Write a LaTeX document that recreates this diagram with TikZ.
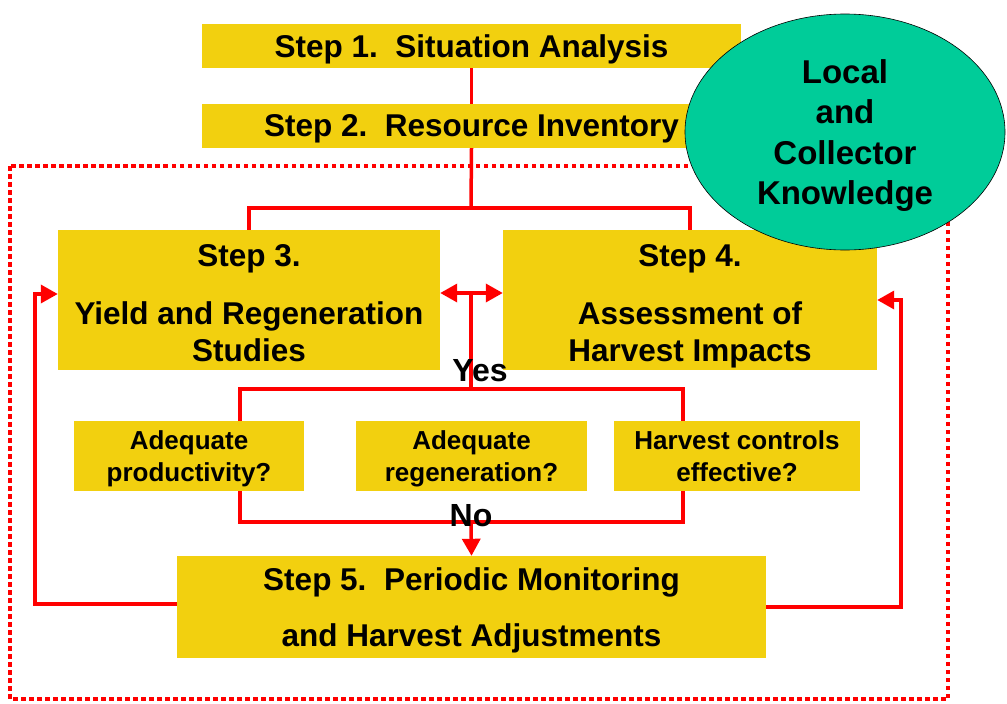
\documentclass[tikz,border=0pt]{standalone}
\usepackage{fontspec}
\setmainfont{Liberation Sans}
\usetikzlibrary{arrows.meta,shapes.geometric,calc}
\definecolor{gold}{RGB}{242,208,15}
\definecolor{teal2}{RGB}{0,204,153}
\begin{document}
\begin{tikzpicture}[x=1pt,y=-1pt,
  gbox/.style={fill=gold,inner sep=0pt,align=center,text depth=0pt,font=\bfseries\fontsize{31.5}{37}\selectfont},
  gtext/.style={inner sep=0pt,align=center,font=\bfseries\fontsize{31.5}{37}\selectfont},
  qbox/.style={fill=gold,inner sep=0pt,align=center,text depth=0pt,minimum width=#1,minimum height=70pt,font=\bfseries\fontsize{26}{31.5}\selectfont},
  conn/.style={red,line width=3.5pt},
  tip/.tip={Triangle[length=17pt,width=18pt]},
  arr/.style={conn,-tip},
  lbl/.style={inner sep=0pt,font=\bfseries\fontsize{32}{36}\selectfont}]
\useasboundingbox (0,0) rectangle (1007,704);
% dotted frame
\draw[red,line width=4.5pt,dash pattern=on 4.5pt off 3.5pt] (10,166) rectangle (948,699);
% boxes
\node[gbox,minimum width=539pt,minimum height=44pt] (s1) at (471.5,46) {Step 1.\ \ Situation Analysis};
\node[gbox,minimum width=539pt,minimum height=44pt] (s2) at (471.5,126) {Step 2.\ \ Resource Inventory};
\node[gbox,minimum width=382pt,minimum height=140pt] (s3) at (249,300) {};
\node[gtext] (s3t) at (249,303) {Step 3.\\[21pt]Yield and Regeneration\\Studies};
\node[gbox,minimum width=374pt,minimum height=140pt] (s4) at (690,300) {};
\node[gtext,text depth=0pt] (s4t) at (690,303) {Step 4.\\[21pt]Assessment of\\Harvest Impacts};
\node[qbox=230pt] (q1) at (189,456) {Adequate\\productivity?};
\node[qbox=231pt] (q2) at (471.5,456) {Adequate\\regeneration?};
\node[qbox=246pt] (q3) at (737,456) {Harvest controls\\effective?};
\node[gbox,minimum width=589pt,minimum height=102pt] (s5) at (471.5,607) {Step 5.\ \ Periodic Monitoring\\[19pt]and Harvest Adjustments};
% ellipse
\node[ellipse,draw=black,line width=0.6pt,fill=teal2,minimum width=320pt,minimum height=236pt,inner sep=0pt,align=center,text depth=0pt,font=\bfseries\fontsize{33}{40.5}\selectfont] (lk) at (845,132) {Local\\and\\Collector\\Knowledge};
% coordinates
\coordinate (br) at (471,208);
\coordinate (mid) at (471,293);
\coordinate (yes) at (471,389);
\coordinate (no) at (471,522);
\coordinate (lf) at (35,294);
\coordinate (rf) at (901,300);
% connectors
\draw[conn] (s1.south) -- (s2.north);
\draw[conn] (s2.south) -- (br);
\draw[conn] (s3.north) |- (br) -| (s4.north);
\draw[conn,tip-tip] (s3.east |- mid) -- (s4.west |- mid);
\draw[conn] (mid) -- (yes);
\draw[conn] ($(q1.north)+(51,0)$) |- (yes) -| ($(q3.north)+(-54,0)$);
\draw[conn] ($(q1.south)+(51,0)$) |- (no) -| ($(q3.south)+(-54,0)$);
\draw[arr] (no) -- (s5.north);
\draw[arr] ($(s5.west)+(0,-3)$) -| (lf) -- (s3.west |- lf);
\draw[arr] (s5.east) -| (rf) -- (s4.east |- rf);
% labels
\node[lbl] (yeslbl) at (480,371) {Yes};
\node[lbl] (nolbl) at (471,516) {No};
\end{tikzpicture}
\end{document}
